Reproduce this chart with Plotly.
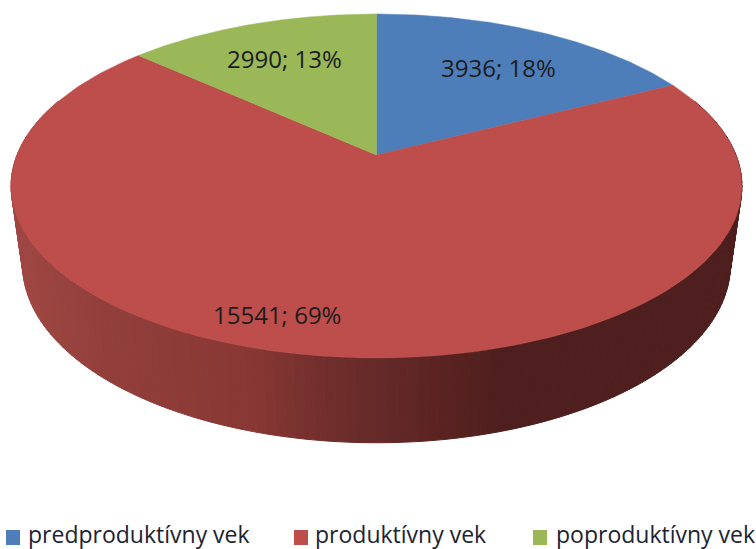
import numpy as np
import plotly.graph_objects as go

categories = ["predproduktívny vek", "produktívny vek", "poproduktívny vek"]
values = [3936, 15541, 2990]
percent_labels = ["18%", "69%", "13%"]
colors = ["#4e7eba", "#bd4e4b", "#9ab858"]

W, H = 756, 549
label_pos = [(498, 67), (277, 314), (284, 58)]
legend_pos = [(6, 27), (294, 314), (533, 555)]
legend_y = 538

# perspective projection of the pie discs
CX = 376.5


def project(theta, yc, A, b, a=0.18):
    u, v = np.sin(theta), np.cos(theta)
    w = 1 + a * v
    return CX + A * u / w, yc - b * v / w


def top(theta):
    return project(theta, 155, 359.5, 166.4)


def bottom(theta):
    return project(theta, 233, 348, 172)


wall_x = [0, 15, 100, 250, 330, 376, 440, 500, 756]
wall_r = [165, 160, 147, 138, 112, 101, 90, 78, 78]
wall_g = [75, 72, 64, 56, 46, 42, 36, 31, 31]
wall_b = [70, 68, 60, 53, 44, 41, 34, 30, 30]


def wall_color(x):
    return "rgb(%d,%d,%d)" % (
        np.interp(x, wall_x, wall_r),
        np.interp(x, wall_x, wall_g),
        np.interp(x, wall_x, wall_b),
    )


fig = go.Figure()

# side wall of the produktivny slice
edges = np.linspace(np.radians(70), np.radians(290), 161)
for t0, t1 in zip(edges[:-1], edges[1:]):
    tx0, ty0 = top(t0)
    tx1, ty1 = top(t1)
    bx0, by0 = bottom(t0)
    bx1, by1 = bottom(t1)
    c = wall_color((tx0 + tx1 + bx0 + bx1) / 4)
    fig.add_trace(go.Scatter(
        x=[tx0, tx1, bx1, bx0, tx0], y=[ty0, ty1, by1, by0, ty0],
        mode="lines", fill="toself", fillcolor=c,
        line=dict(color=c, width=1), hoverinfo="skip", showlegend=False))

# top surface: angles come from the values
total = sum(values)
start = 0.0
for val, col in zip(values, colors):
    span = 2 * np.pi * val / total
    th = np.linspace(start, start + span, 240)
    ex, ey = top(th)
    fig.add_trace(go.Scatter(
        x=np.r_[CX, ex, CX], y=np.r_[155, ey, 155],
        mode="lines", fill="toself", fillcolor=col,
        line=dict(color=col, width=0.5), hoverinfo="skip", showlegend=False))
    start += span

annotations = []
for val, pct, (lx, ly) in zip(values, percent_labels, label_pos):
    annotations.append(dict(
        x=lx, y=ly, text=f"{val}; {pct}", showarrow=False, xanchor="center", yanchor="middle",
        font=dict(family="Open Sans", size=24, color="#1c1c1c")))

shapes = []
for cat, col, (sx, tx) in zip(categories, colors, legend_pos):
    shapes.append(dict(type="rect", x0=sx, x1=sx + 14, y0=legend_y - 8, y1=legend_y + 7,
                       fillcolor=col, line=dict(width=0), layer="above"))
    annotations.append(dict(
        x=tx - 1, y=legend_y - 4.5, text=cat, showarrow=False, xanchor="left", yanchor="middle",
        font=dict(family="Open Sans", size=23, color="#1c2433")))

fig.update_layout(
    width=W, height=H, margin=dict(l=0, r=0, t=0, b=0),
    paper_bgcolor="white", plot_bgcolor="white", showlegend=False,
    xaxis=dict(range=[0, W], visible=False, fixedrange=True),
    yaxis=dict(range=[H, 0], visible=False, fixedrange=True),
    annotations=annotations, shapes=shapes)

fig.write_html("out.html", config=dict(displayModeBar=False),
               post_script="document.body.style.margin='0';document.body.style.overflow='hidden';")
